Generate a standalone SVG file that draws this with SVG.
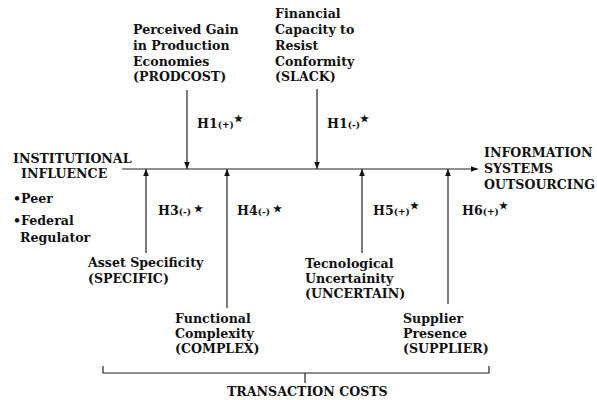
<svg xmlns="http://www.w3.org/2000/svg" width="597" height="400" viewBox="0 0 597 400">
<style>
text{font-family:"DejaVu Serif","Liberation Serif",serif;font-weight:bold;font-size:12.6px;fill:#111}
.sm{font-size:9px}
.st{font-size:9.5px}
line,path.c{stroke:#222;stroke-width:1.2;fill:none}
</style>
<defs>
<marker id="ah" viewBox="0 0 10 10" refX="10" refY="5" markerWidth="7" markerHeight="7" markerUnits="userSpaceOnUse" orient="auto">
<path d="M0,1 L10,5 L0,9 Z" fill="#111"/>
</marker>
</defs>
<rect width="597" height="400" fill="#fff"/>
<g id="connectors">
<line x1="122" y1="169" x2="478" y2="169" marker-end="url(#ah)"/>
<line x1="187" y1="90" x2="187" y2="169" marker-end="url(#ah)"/>
<line x1="317" y1="89" x2="317" y2="169" marker-end="url(#ah)"/>
<line x1="146" y1="253" x2="146" y2="169" marker-end="url(#ah)"/>
<line x1="227" y1="308" x2="227" y2="169" marker-end="url(#ah)"/>
<line x1="362" y1="253" x2="362" y2="169" marker-end="url(#ah)"/>
<line x1="448" y1="304" x2="448" y2="169" marker-end="url(#ah)"/>
<path class="c" d="M103,366 V373 H489 V366 M305,373 V383"/>
</g>
<g id="institutional">
<text x="13" y="163">INSTITUTIONAL</text>
<text x="21" y="178">INFLUENCE</text>
<text x="13" y="203">•Peer</text>
<text x="13" y="225">•Federal</text>
<text x="20" y="242">Regulator</text>
</g>
<g id="prodcost">
<text x="133" y="34">Perceived Gain</text>
<text x="133" y="50">in Production</text>
<text x="133" y="65.5">Economies</text>
<text x="133" y="81">(PRODCOST)</text>
</g>
<g id="slack">
<text x="275" y="18">Financial</text>
<text x="275" y="34">Capacity to</text>
<text x="275" y="50">Resist</text>
<text x="275" y="65.5">Conformity</text>
<text x="275" y="81">(SLACK)</text>
</g>
<g id="outsourcing">
<text x="484" y="157">INFORMATION</text>
<text x="484" y="173">SYSTEMS</text>
<text x="484" y="189">OUTSOURCING</text>
</g>
<g id="specific">
<text x="88" y="267">Asset Specificity</text>
<text x="88" y="283">(SPECIFIC)</text>
</g>
<g id="complex">
<text x="175" y="323">Functional</text>
<text x="175" y="338">Complexity</text>
<text x="175" y="353">(COMPLEX)</text>
</g>
<g id="uncertain">
<text x="305" y="268">Tecnological</text>
<text x="305" y="283">Uncertainity</text>
<text x="305" y="298">(UNCERTAIN)</text>
</g>
<g id="supplier">
<text x="403" y="323">Supplier</text>
<text x="403" y="338">Presence</text>
<text x="403" y="353">(SUPPLIER)</text>
</g>
<g id="transaction">
<text x="227" y="396">TRANSACTION COSTS</text>
</g>
<g id="labels">
<text x="197" y="128">H1<tspan class="sm">(+)</tspan><tspan class="st" dy="-6">★</tspan></text>
<text x="327" y="128">H1<tspan class="sm">(-)</tspan><tspan class="st" dy="-6">★</tspan></text>
<text x="158" y="215">H3<tspan class="sm">(-)</tspan><tspan class="st" dy="-3"> ★</tspan></text>
<text x="237" y="215">H4<tspan class="sm">(-)</tspan><tspan class="st" dy="-3"> ★</tspan></text>
<text x="373" y="215">H5<tspan class="sm">(+)</tspan><tspan class="st" dy="-6">★</tspan></text>
<text x="462" y="215">H6<tspan class="sm">(+)</tspan><tspan class="st" dy="-6">★</tspan></text>
</g>
</svg>
